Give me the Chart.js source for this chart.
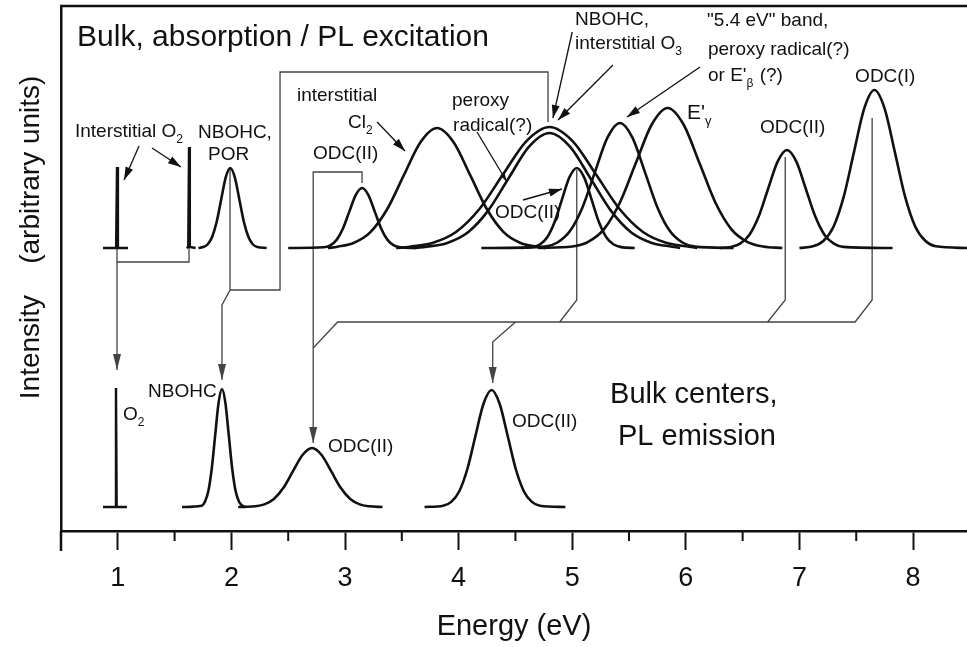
<!DOCTYPE html>
<html>
<head>
<meta charset="utf-8">
<title>Bulk centers: absorption / PL excitation and PL emission</title>
<script src="https://cdn.jsdelivr.net/npm/chart.js@4.4.1/dist/chart.umd.min.js"></script>
<style>
  html, body { margin: 0; padding: 0; background: #fff; }
  #chart { display: block; }
</style>
</head>
<body>
<canvas id="chart" width="967" height="647"></canvas>
<script>
// --- Data (x = energy in eV, y = intensity, arbitrary units) ---

// axis
const energyTicks = [1, 2, 3, 4, 5, 6, 7, 8];
const minorTicks = [0.5, 1.5, 2.5, 3.5, 4.5, 5.5, 6.5, 7.5];

// upper panel: absorption / PL excitation bands
const o2aX = [0.87, 0.985, 0.993, 1.001, 1.09];
const o2aY = [283, 283, 364, 283, 283];
const o2bX = [1.605, 1.62, 1.627, 1.634, 1.685];
const o2bY = [283, 284, 384, 284, 283];
const nbohcAbsX = [1.71, 1.75, 1.79, 1.83, 1.87, 1.91, 1.95, 1.99, 2.03, 2.07, 2.11, 2.15, 2.19, 2.23, 2.31];
const nbohcAbsY = [283, 284, 286.5, 294, 309, 331.6, 353.6, 363, 353.6, 331.6, 309, 294, 286.5, 284, 283];
const odc315X = [2.5, 2.814, 2.87, 2.926, 2.982, 3.038, 3.094, 3.15, 3.206, 3.262, 3.318, 3.374, 3.43, 3.486, 3.62];
const odc315Y = [283, 283.7, 285.6, 291.1, 302.5, 319.4, 335.9, 343, 335.9, 319.4, 302.5, 291.1, 285.6, 283.7, 283];
const cl2X = [2.85, 2.934, 3.08, 3.226, 3.372, 3.518, 3.664, 3.81, 3.956, 4.102, 4.248, 4.394, 4.54, 4.686, 4.77];
const cl2Y = [283, 284.3, 288.3, 299.2, 322, 355.8, 388.8, 403, 388.8, 355.8, 322, 299.2, 288.3, 284.3, 283];
const nbohc48X = [3.45, 3.57, 3.775, 3.98, 4.185, 4.39, 4.595, 4.8, 5.005, 5.21, 5.415, 5.62, 5.825, 6.03, 6.1];
const nbohc48Y = [283, 284.3, 288.3, 299.3, 322.3, 356.4, 389.7, 404, 389.7, 356.4, 322.3, 299.3, 288.3, 284.3, 283];
const peroxy48X = [3.6, 3.72, 3.9, 4.08, 4.26, 4.44, 4.62, 4.8, 4.98, 5.16, 5.34, 5.52, 5.7, 5.88, 5.95];
const peroxy48Y = [283, 284.3, 288.1, 298.5, 320.4, 352.8, 384.4, 398, 384.4, 352.8, 320.4, 298.5, 288.1, 284.3, 283];
const odc504X = [4.55, 4.65, 4.715, 4.78, 4.845, 4.91, 4.975, 5.04, 5.105, 5.17, 5.235, 5.3, 5.365, 5.43, 5.55];
const odc504Y = [283, 283.9, 286.5, 293.8, 309, 331.6, 353.6, 363, 353.6, 331.6, 309, 293.8, 286.5, 283.9, 283];
const band54X = [4.2, 4.76, 4.87, 4.98, 5.09, 5.2, 5.31, 5.42, 5.53, 5.64, 5.75, 5.86, 5.97, 6.08, 6.42];
const band54Y = [283, 284.4, 288.5, 299.9, 323.6, 358.9, 393.3, 408, 393.3, 358.9, 323.6, 299.9, 288.5, 284.4, 283];
const eGammaX = [4.7, 5.0, 5.14, 5.28, 5.42, 5.56, 5.7, 5.84, 5.98, 6.12, 6.26, 6.4, 6.54, 6.68, 6.85];
const eGammaY = [283, 284.5, 289.2, 301.9, 328.5, 368, 406.5, 423, 406.5, 368, 328.5, 301.9, 289.2, 284.5, 283];
const odc689X = [6.3, 6.395, 6.478, 6.56, 6.643, 6.725, 6.808, 6.89, 6.973, 7.055, 7.138, 7.22, 7.303, 7.385, 7.82];
const odc689Y = [283, 284.1, 287.3, 296.2, 314.9, 342.5, 369.4, 381, 369.4, 342.5, 314.9, 296.2, 287.3, 284.1, 283];
const odcIX = [7.0, 7.12, 7.21, 7.3, 7.39, 7.48, 7.57, 7.66, 7.75, 7.84, 7.93, 8.02, 8.11, 8.2, 8.475];
const odcIY = [283, 284.7, 290, 304.3, 334.4, 378.9, 422.4, 441, 422.4, 378.9, 334.4, 304.3, 290, 284.7, 283];

// lower panel: PL emission bands
const o2EmX = [0.87, 0.978, 0.984, 0.99, 1.08];
const o2EmY = [24, 24, 143, 24, 24];
const nbohcEmX = [1.565, 1.737, 1.767, 1.797, 1.827, 1.857, 1.887, 1.917, 1.947, 1.977, 2.007, 2.037, 2.067, 2.097, 2.12];
const nbohcEmY = [24, 25.3, 29.2, 39.9, 62.4, 95.6, 128.1, 142, 128.1, 95.6, 62.4, 39.9, 29.2, 25.3, 24];
const odc27X = [2.06, 2.206, 2.29, 2.374, 2.458, 2.542, 2.626, 2.71, 2.794, 2.878, 2.962, 3.046, 3.13, 3.214, 3.33];
const odc27Y = [24, 24.7, 26.6, 32, 43.2, 59.8, 76, 83, 76, 59.8, 43.2, 32, 26.6, 24.7, 24];
const odc43X = [3.7, 3.864, 3.935, 4.006, 4.077, 4.148, 4.219, 4.29, 4.361, 4.432, 4.503, 4.574, 4.645, 4.716, 4.94];
const odc43Y = [24, 25.3, 29.1, 39.8, 62, 95, 127.2, 141, 127.2, 95, 62, 39.8, 29.1, 25.3, 24];

// thin connectors: excitation band -> emission band ([x, y] corners)
const linkO2 = [[1.627, 283], [1.627, 269], [0.993, 269]];
const linkO2Arrow = [[0.993, 283], [0.993, 161]];
const linkNbohc = [[4.787, 409], [4.787, 459], [2.428, 459], [2.428, 241], [1.988, 241]];
const linkNbohcArrow = [[1.988, 363], [1.988, 241], [1.917, 226], [1.917, 151]];
const linkOdc27Arrow = [[3.15, 348], [3.15, 359], [2.72, 359], [2.72, 88]];
const linkOdcBus = [[2.72, 183], [2.935, 209], [7.49, 209], [7.64, 231], [7.64, 413]];
const linkOdc43Arrow = [[4.5, 209], [4.3, 189], [4.3, 148]];
const linkOdc504 = [[4.89, 209], [5.04, 231], [5.04, 361]];
const linkOdc689 = [[6.72, 209], [6.875, 231], [6.875, 374]];

// label pointers
const ptrO2a = [[1.187, 385], [1.055, 351]];
const ptrO2b = [[1.301, 383], [1.556, 364]];
const ptrCl2 = [[3.282, 409], [3.528, 380]];
const ptrPeroxy = [[4.162, 399], [4.426, 349]];
const ptrOdcInner = [[4.567, 331], [4.91, 342]];
const ptrNbohc48 = [[5.0, 499], [4.83, 413]];
const ptrO3 = [[5.359, 466], [4.875, 411]];
const ptrBand54 = [[6.125, 464], [5.482, 414]];

// text labels ("_x" = subscript x)
const labelText = [
  'Bulk, absorption / PL excitation', 'Interstitial O_2', 'NBOHC,', 'POR',
  'interstitial', 'Cl_2', 'ODC(II)', 'peroxy', 'radical(?)', 'ODC(II)',
  'NBOHC,', 'interstitial O_3', '"5.4 eV" band,', 'peroxy radical(?)', "or E'_β (?)",
  "E'_γ", 'ODC(II)', 'ODC(I)',
  'O_2', 'NBOHC', 'ODC(II)', 'ODC(II)', 'Bulk centers,', 'PL emission'
];
const labelX = [0.641, 0.623, 1.706, 1.794, 2.577, 3.026, 2.718, 3.942, 3.951, 4.32,
  5.025, 5.025, 6.187, 6.195, 6.195, 6.011, 6.653, 7.49,
  1.046, 1.266, 2.85, 4.47, 5.333, 5.403];
const labelY = [493, 399, 398, 376, 435, 408, 377, 430, 405, 318,
  511, 487, 510, 481, 455, 418, 403, 454,
  116, 139, 84, 109, 136, 94];
const labelSize = [30, 19, 19, 19, 19, 19, 19, 19, 19, 19,
  19, 19, 19, 19, 19, 21, 19, 19,
  19, 19, 19, 19, 29, 29];

// --- Styling ---
const INK = '#111';
const WIRE = '#444';
const FONT = '"Liberation Sans", Arial, Helvetica, sans-serif';
Chart.defaults.font.family = FONT;
Chart.defaults.color = INK;

function pts(xs, ys) {
  return xs.map((x, i) => ({ x: x, y: ys[i] }));
}
function pairs(list) {
  return list.map(p => ({ x: p[0], y: p[1] }));
}

const datasets = [];

// band curves (smooth)
[
  [nbohcAbsX, nbohcAbsY], [odc315X, odc315Y], [cl2X, cl2Y], [nbohc48X, nbohc48Y],
  [peroxy48X, peroxy48Y], [odc504X, odc504Y], [band54X, band54Y], [eGammaX, eGammaY],
  [odc689X, odc689Y], [odcIX, odcIY],
  [nbohcEmX, nbohcEmY], [odc27X, odc27Y], [odc43X, odc43Y]
].forEach(c => {
  datasets.push({
    data: pts(c[0], c[1]), borderColor: INK, borderWidth: 2.6,
    cubicInterpolationMode: 'monotone', pointRadius: 0, fill: false
  });
});

// sharp O2 lines
[[o2aX, o2aY], [o2bX, o2bY], [o2EmX, o2EmY]].forEach(c => {
  datasets.push({ data: pts(c[0], c[1]), borderColor: INK, borderWidth: 2.4, tension: 0, pointRadius: 0 });
});

// connectors
[
  [linkO2, false], [linkO2Arrow, true], [linkNbohc, false], [linkNbohcArrow, true],
  [linkOdc27Arrow, true], [linkOdcBus, false], [linkOdc43Arrow, true],
  [linkOdc504, false], [linkOdc689, false]
].forEach(l => {
  datasets.push({
    data: pairs(l[0]), borderColor: WIRE, borderWidth: 1.3, tension: 0, pointRadius: 0,
    arrow: l[1], headLen: 16, headHalf: 4
  });
});

// pointers from labels
[ptrO2a, ptrO2b, ptrCl2, ptrOdcInner, ptrNbohc48, ptrO3, ptrBand54].forEach(p => {
  datasets.push({
    data: pairs(p), borderColor: INK, borderWidth: 1.3, tension: 0, pointRadius: 0,
    arrow: true, headLen: 13, headHalf: 4
  });
});
datasets.push({
  data: pairs(ptrPeroxy), borderColor: INK, borderWidth: 1.3, tension: 0, pointRadius: 0,
  arrow: true, headLen: 9, headHalf: 2.5
});

function drawHead(ctx, x1, y1, x2, y2, len, half) {
  const a = Math.atan2(y2 - y1, x2 - x1);
  const bx = x2 - len * Math.cos(a), by = y2 - len * Math.sin(a);
  ctx.beginPath();
  ctx.moveTo(x2, y2);
  ctx.lineTo(bx + half * Math.sin(a), by - half * Math.cos(a));
  ctx.lineTo(bx - half * Math.sin(a), by + half * Math.cos(a));
  ctx.closePath();
  ctx.fill();
}

function drawLabel(ctx, px, py, text, size) {
  const parts = text.split(/_(.)/); // odd entries are subscripts
  let cx = px;
  parts.forEach((p, k) => {
    if (!p) return;
    const sub = k % 2 === 1;
    ctx.font = (sub ? Math.round(size * 0.62) : size) + 'px ' + FONT;
    ctx.fillText(p, cx, sub ? py + size * 0.38 : py);
    cx += ctx.measureText(p).width + (sub ? 1 : 0);
  });
}

// frame, minor ticks, arrowheads and labels
const figurePlugin = {
  id: 'figure',
  afterDatasetsDraw(chart) {
    const { ctx, chartArea, scales } = chart;
    ctx.save();
    ctx.strokeStyle = INK;
    ctx.lineWidth = 2.5;
    ctx.beginPath();
    ctx.moveTo(chartArea.left - 1, chartArea.top);
    ctx.lineTo(chartArea.right, chartArea.top);
    ctx.moveTo(chartArea.left, chartArea.bottom);
    ctx.lineTo(chartArea.left, chartArea.bottom + 20);
    ctx.stroke();

    ctx.lineWidth = 2;
    minorTicks.forEach(v => {
      const px = scales.x.getPixelForValue(v);
      ctx.beginPath();
      ctx.moveTo(px, chartArea.bottom);
      ctx.lineTo(px, chartArea.bottom + 10);
      ctx.stroke();
    });

    chart.data.datasets.forEach((ds, i) => {
      if (!ds.arrow) return;
      const el = chart.getDatasetMeta(i).data;
      const a = el[el.length - 2], b = el[el.length - 1];
      ctx.fillStyle = ds.borderColor;
      drawHead(ctx, a.x, a.y, b.x, b.y, ds.headLen, ds.headHalf);
    });

    ctx.fillStyle = INK;
    ctx.textBaseline = 'middle';
    ctx.textAlign = 'left';
    labelText.forEach((t, i) => {
      drawLabel(ctx, scales.x.getPixelForValue(labelX[i]), scales.y.getPixelForValue(labelY[i]), t, labelSize[i]);
    });
    ctx.restore();
  }
};

const NB = '\u00a0';
new Chart(document.getElementById('chart').getContext('2d'), {
  type: 'line',
  data: { datasets: datasets },
  options: {
    responsive: false,
    animation: false,
    devicePixelRatio: 1,
    layout: { padding: { top: 6, right: 0, bottom: 0, left: 0 } },
    plugins: { legend: { display: false }, tooltip: { enabled: false } },
    elements: { point: { radius: 0 } },
    scales: {
      x: {
        type: 'linear',
        min: 0.5,
        max: 8.475,
        afterFit: s => { s.height = 116; },
        ticks: {
          stepSize: 0.5,
          includeBounds: false,
          autoSkip: false,
          maxRotation: 0,
          padding: 12,
          color: INK,
          font: { size: 27 },
          callback: v => energyTicks.includes(v) ? String(v) : ''
        },
        grid: {
          display: true,
          drawOnChartArea: false,
          drawTicks: true,
          tickLength: 19,
          tickWidth: 2,
          tickColor: c => energyTicks.includes(c.tick.value) ? INK : 'rgba(0,0,0,0)'
        },
        border: { display: true, color: INK, width: 2.5 },
        title: {
          display: true,
          text: 'Energy (eV)',
          color: INK,
          font: { size: 29 },
          padding: { top: 0, bottom: 3 }
        }
      },
      y: {
        min: 0,
        max: 525,
        afterFit: s => { s.width = 61; },
        ticks: { display: false },
        grid: { display: false, drawTicks: false },
        border: { display: true, color: INK, width: 2.5 },
        title: {
          display: true,
          text: NB.repeat(8) + 'Intensity' + NB.repeat(4) + '(arbitrary units)',
          color: INK,
          font: { size: 28 },
          padding: { top: 14, bottom: 0 }
        }
      }
    }
  },
  plugins: [figurePlugin]
});
</script>
</body>
</html>
